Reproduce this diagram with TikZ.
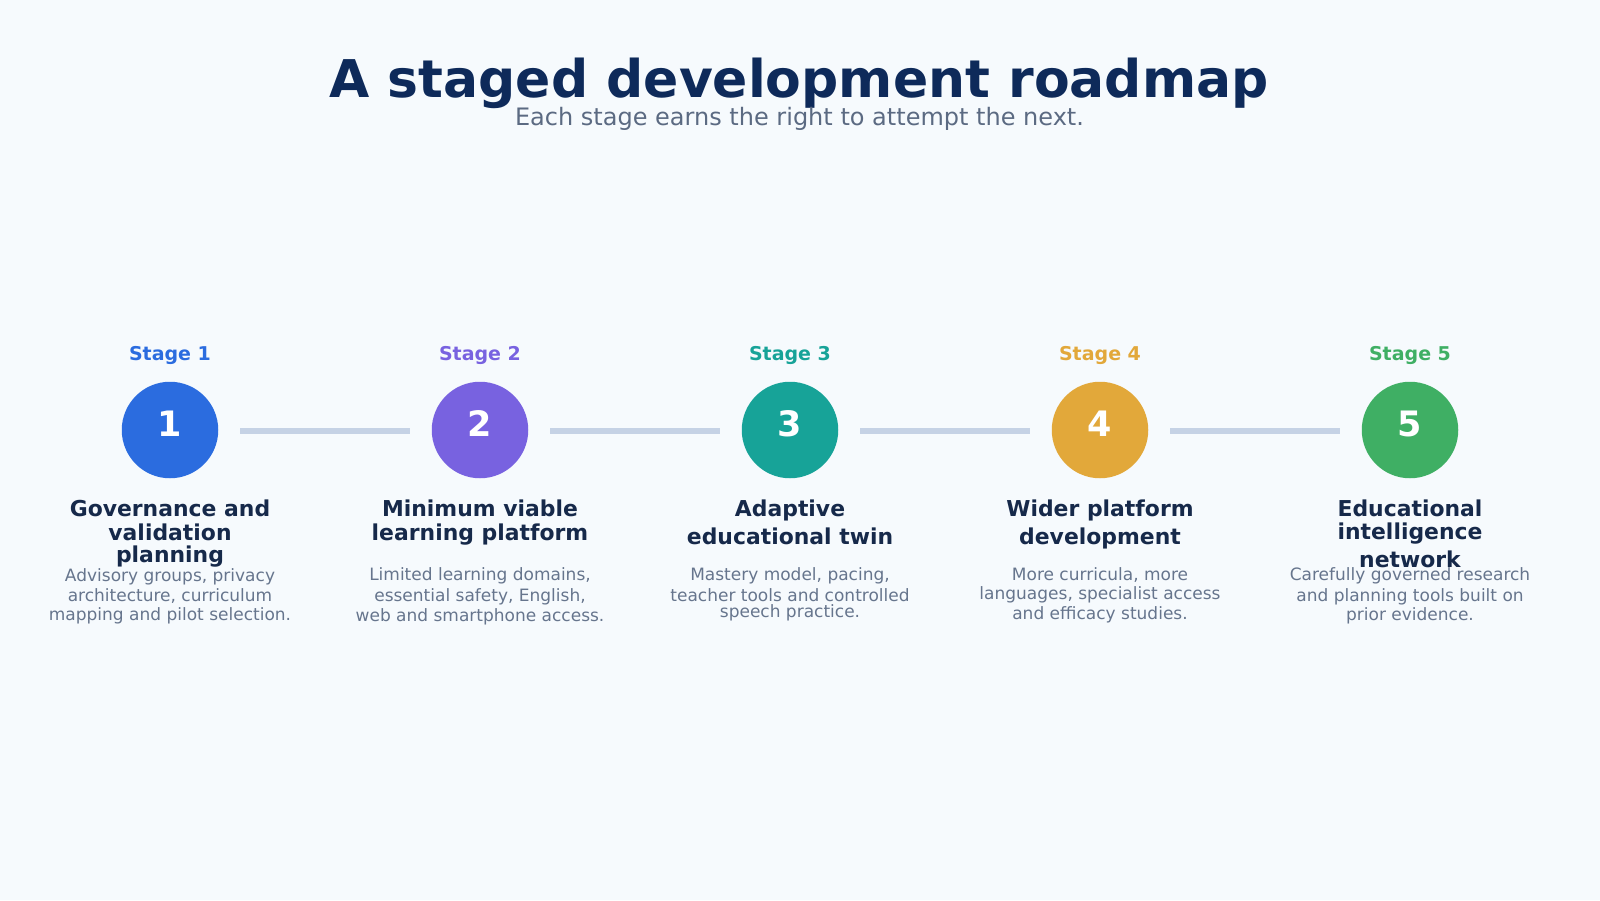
\documentclass[tikz,border=0pt]{standalone}
\usepackage{fontspec}
\setmainfont{DejaVu Sans}
\definecolor{bgc}{HTML}{F6FAFD}
\definecolor{titlec}{HTML}{0E2A5A}
\definecolor{subc}{HTML}{5B6A82}
\definecolor{cA}{HTML}{2B6CDF}
\definecolor{cB}{HTML}{7862E0}
\definecolor{cC}{HTML}{17A398}
\definecolor{cD}{HTML}{E2A83A}
\definecolor{cE}{HTML}{3FAF64}
\definecolor{linkc}{HTML}{C5D2E5}
\definecolor{headc}{HTML}{16294A}
\definecolor{descc}{HTML}{66758D}
\tikzset{
  disc/.style={circle, minimum size=96.5pt, inner sep=0pt, fill=#1},
  numtxt/.style={anchor=base, inner sep=0pt, text=white, font=\fontsize{35}{40}\selectfont\bfseries},
  stagetxt/.style={anchor=base, inner sep=0pt, text=#1, font=\fontsize{19}{22}\selectfont\bfseries},
  headtxt/.style={anchor=base, inner sep=0pt, text=headc, font=\fontsize{21.9}{24}\selectfont\bfseries},
  desctxt/.style={anchor=base, inner sep=0pt, text=descc, font=\fontsize{17}{20}\selectfont},
  link/.style={draw=linkc, line width=6pt}
}
\begin{document}
\begin{tikzpicture}[x=1pt,y=-1pt]
\fill[bgc] (0,0) rectangle (1600,900);
\useasboundingbox (0,0) rectangle (1600,900);

\node[anchor=base, inner sep=0pt, text=titlec, font=\fontsize{52}{60}\selectfont\bfseries] (title) at (799,97.3) {A staged development roadmap};
\node[anchor=base, inner sep=0pt, text=subc, font=\fontsize{24}{28}\selectfont] (subtitle) at (799.5,125) {Each stage earns the right to attempt the next.};

% stage labels
\node[stagetxt=cA] (s1) at (170,360.7) {Stage 1};
\node[stagetxt=cB] (s2) at (480,360.7) {Stage 2};
\node[stagetxt=cC] (s3) at (790,360.7) {Stage 3};
\node[stagetxt=cD] (s4) at (1100,360.7) {Stage 4};
\node[stagetxt=cE] (s5) at (1410,360.7) {Stage 5};

% circles
\node[disc=cA] (c1) at (170,430) {};
\node[disc=cB] (c2) at (480,430) {};
\node[disc=cC] (c3) at (790,430) {};
\node[disc=cD] (c4) at (1100,430) {};
\node[disc=cE] (c5) at (1410,430) {};

\node[numtxt] (n1) at (170,436.7) {1};
\node[numtxt] (n2) at (480,436.7) {2};
\node[numtxt] (n3) at (790,436.7) {3};
\node[numtxt] (n4) at (1100,436.7) {4};
\node[numtxt] (n5) at (1410,436.7) {5};

% connectors
\draw[link] ([xshift=22pt,yshift=-1pt]c1.east) -- ([xshift=-22pt,yshift=-1pt]c2.west);
\draw[link] ([xshift=22pt,yshift=-1pt]c2.east) -- ([xshift=-22pt,yshift=-1pt]c3.west);
\draw[link] ([xshift=22pt,yshift=-1pt]c3.east) -- ([xshift=-22pt,yshift=-1pt]c4.west);
\draw[link] ([xshift=22pt,yshift=-1pt]c4.east) -- ([xshift=-22pt,yshift=-1pt]c5.west);

% headings
\node[headtxt] (h1a) at (170,516.7) {Governance and};
\node[headtxt] (h1b) at (170,540) {validation};
\node[headtxt] (h1c) at (170,562.7) {planning};
\node[headtxt] (h2a) at (480,516.7) {Minimum viable};
\node[headtxt] (h2b) at (480,540) {learning platform};
\node[headtxt] (h3a) at (790,516.7) {Adaptive};
\node[headtxt] (h3b) at (790,544.3) {educational twin};
\node[headtxt] (h4a) at (1100,516.7) {Wider platform};
\node[headtxt] (h4b) at (1100,544.3) {development};
\node[headtxt] (h5a) at (1410,516.7) {Educational};
\node[headtxt] (h5b) at (1410,539.3) {intelligence};
\node[headtxt] (h5c) at (1410,567.3) {network};

% descriptions
\node[desctxt] (d1a) at (170,581) {Advisory groups, privacy};
\node[desctxt] (d1b) at (170,601) {architecture, curriculum};
\node[desctxt] (d1c) at (170,620) {mapping and pilot selection.};
\node[desctxt] (d2a) at (480,580.7) {Limited learning domains,};
\node[desctxt] (d2b) at (480,601) {essential safety, English,};
\node[desctxt] (d2c) at (480,621) {web and smartphone access.};
\node[desctxt] (d3a) at (790,580.7) {Mastery model, pacing,};
\node[desctxt] (d3b) at (790,601) {teacher tools and controlled};
\node[desctxt] (d3c) at (790,617.7) {speech practice.};
\node[desctxt] (d4a) at (1100,580.7) {More curricula, more};
\node[desctxt] (d4b) at (1100,599) {languages, specialist access};
\node[desctxt] (d4c) at (1100,619.3) {and efficacy studies.};
\node[desctxt] (d5a) at (1410,580.7) {Carefully governed research};
\node[desctxt] (d5b) at (1410,601) {and planning tools built on};
\node[desctxt] (d5c) at (1410,620.7) {prior evidence.};
\end{tikzpicture}
\end{document}
